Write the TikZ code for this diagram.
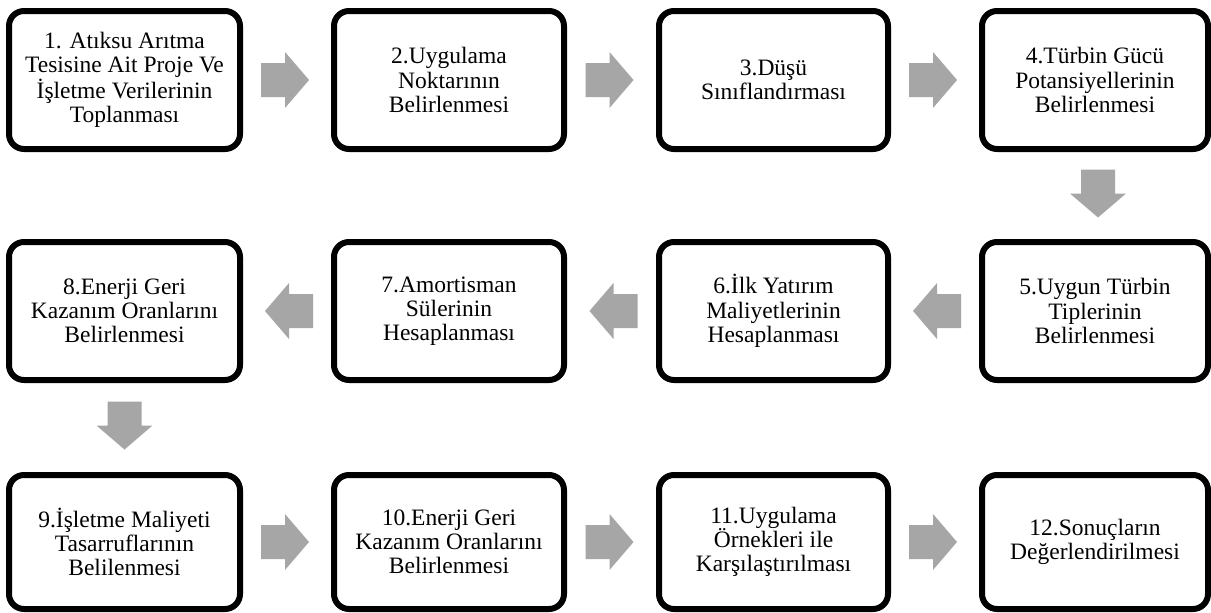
\documentclass[tikz,border=0pt]{standalone}
\usepackage{fontspec}
\setmainfont{Liberation Serif}
\usetikzlibrary{calc}
\definecolor{arrowgray}{RGB}{166,166,166}
\tikzset{
  stepbox/.style={draw=black, line width=6pt, rounded corners=15pt, fill=white,
    align=center, inner sep=0pt, font=\fontsize{23.5}{24.2}\selectfont},
  pics/blockarrow/.style={code={
    \fill[arrowgray] (-26,-17) -- (-2,-17) -- (-2,-28) -- (22,0) -- (-2,28) -- (-2,17) -- (-26,17) -- cycle;}}
}
\begin{document}
\begin{tikzpicture}[x=1pt,y=-1pt]
\useasboundingbox[fill=white] (0,0) rectangle (1211,613);
% row 1
\node[stepbox, minimum width=231pt, minimum height=138pt] (b1) at (124.5,80) {1. Atıksu Arıtma\\Tesisine Ait Proje Ve\\İşletme Verilerinin\\Toplanması};
\node[stepbox, minimum width=230pt, minimum height=138pt] (b2) at (449,80) {2.Uygulama\\Noktarının\\Belirlenmesi};
\node[stepbox, minimum width=229pt, minimum height=138pt] (b3) at (773.5,80) {3.Düşü\\Sınıflandırması};
\node[stepbox, minimum width=226pt, minimum height=138pt] (b4) at (1095,80) {4.Türbin Gücü\\Potansiyellerinin\\Belirlenmesi};
% row 2
\node[stepbox, minimum width=226pt, minimum height=138pt] (b5) at (1095,311) {5.Uygun Türbin\\Tiplerinin\\Belirlenmesi};
\node[stepbox, minimum width=229pt, minimum height=138pt] (b6) at (773.5,311) {6.İlk Yatırım\\Maliyetlerinin\\Hesaplanması};
\node[stepbox, minimum width=230pt, minimum height=138pt] (b7) at (449,311) {7.Amortisman\\Sülerinin\\Hesaplanması};
\node[stepbox, minimum width=231pt, minimum height=138pt] (b8) at (124.5,311) {8.Enerji Geri\\Kazanım Oranlarını\\Belirlenmesi};
% row 3
\node[stepbox, minimum width=231pt, minimum height=134pt] (b9) at (124.5,542) {9.İşletme Maliyeti\\Tasarruflarının\\Belilenmesi};
\node[stepbox, minimum width=230pt, minimum height=134pt] (b10) at (449,542) {10.Enerji Geri\\Kazanım Oranlarını\\Belirlenmesi};
\node[stepbox, minimum width=229pt, minimum height=134pt] (b11) at (773.5,542) {11.Uygulama\\Örnekleri ile\\Karşılaştırılması};
\node[stepbox, minimum width=226pt, minimum height=134pt] (b12) at (1095,542) {12.Sonuçların\\Değerlendirilmesi};
% arrows
\pic at ($(b1.east)!0.5!(b2.west)$) {blockarrow};
\pic at ($(b2.east)!0.5!(b3.west)$) {blockarrow};
\pic at ($(b3.east)!0.5!(b4.west)$) {blockarrow};
\pic[rotate=-90] at ($(b4.south)!0.5!(b5.north)+(3,0)$) {blockarrow};
\pic[rotate=180] at ($(b5.west)!0.5!(b6.east)$) {blockarrow};
\pic[rotate=180] at ($(b6.west)!0.5!(b7.east)$) {blockarrow};
\pic[rotate=180] at ($(b7.west)!0.5!(b8.east)$) {blockarrow};
\pic[rotate=-90] at ($(b8.south)!0.5!(b9.north)$) {blockarrow};
\pic at ($(b9.east)!0.5!(b10.west)$) {blockarrow};
\pic at ($(b10.east)!0.5!(b11.west)$) {blockarrow};
\pic at ($(b11.east)!0.5!(b12.west)$) {blockarrow};
\end{tikzpicture}
\end{document}
